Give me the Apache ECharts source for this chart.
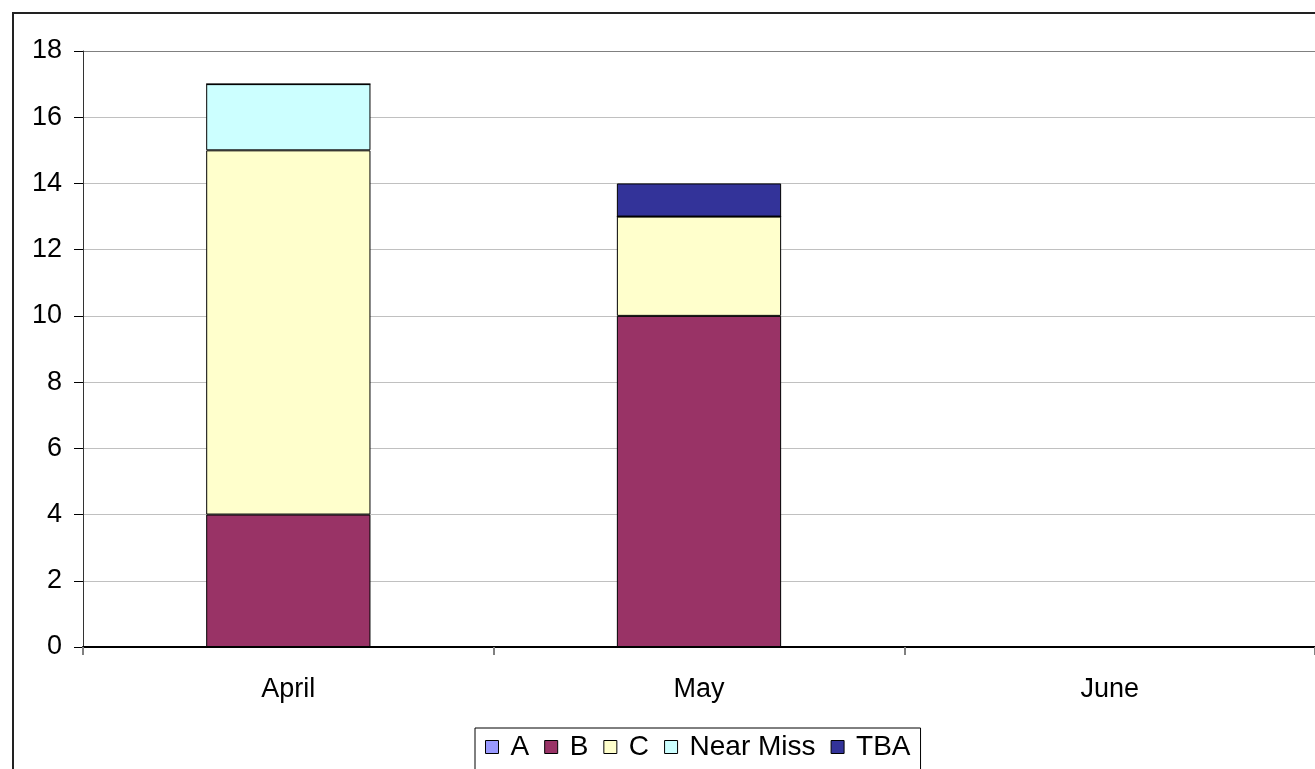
<!DOCTYPE html>
<html>
<head>
<meta charset="utf-8">
<script src="https://cdn.jsdelivr.net/npm/echarts@6/dist/echarts.min.js"></script>
<style>
html,body{margin:0;padding:0;background:#fff;}
#main{width:1315px;height:769px;}
</style>
</head>
<body>
<div id="main"></div>
<script>
const categories = ['April', 'May', 'June'];
const seriesA = [0, 0, 0];
const seriesB = [4, 10, 0];
const seriesC = [11, 3, 0];
const seriesNearMiss = [2, 0, 0];
const seriesTBA = [0, 1, 0];
const yTicks = [0, 2, 4, 6, 8, 10, 12, 14, 16, 18];

const FONT = "'Liberation Sans', Arial, sans-serif";
const chart = echarts.init(document.getElementById('main'), null, {renderer: 'canvas'});

function bar(name, data, color) {
  return {
    name: name,
    type: 'bar',
    stack: 'total',
    data: data,
    barWidth: '40%',
    itemStyle: {color: color, borderColor: '#000', borderWidth: 1},
    emphasis: {disabled: true}
  };
}

const gridColors = yTicks.map((v, i) => i === yTicks.length - 1 ? '#808080' : '#C0C0C0');

chart.setOption({
  animation: false,
  backgroundColor: '#fff',
  textStyle: {fontFamily: FONT},
  graphic: [{
    type: 'rect',
    shape: {x: 13, y: 13, width: 1400, height: 800},
    style: {fill: 'none', stroke: '#222', lineWidth: 2},
    silent: true
  }],
  grid: {left: 83, right: -1, top: 51, bottom: 122, containLabel: false},
  legend: {
    left: 475,
    top: 728,
    orient: 'horizontal',
    padding: [5, 10, 20, 10],
    borderColor: '#000',
    borderWidth: 1,
    itemGap: 15,
    itemWidth: 20,
    itemHeight: 13,
    icon: 'path://M0,0h13v13h-13z M20,13',
    itemStyle: {borderColor: '#000', borderWidth: 1},
    textStyle: {fontFamily: FONT, fontSize: 28, color: '#000'},
    data: ['A', 'B', 'C', 'Near Miss', 'TBA']
  },
  xAxis: {
    type: 'category',
    data: categories,
    boundaryGap: true,
    axisLine: {show: true, lineStyle: {color: '#000', width: 2}},
    axisTick: {show: true, length: 8, lineStyle: {color: '#808080', width: 2}},
    axisLabel: {fontFamily: FONT, fontSize: 27, color: '#000', margin: 29},
    splitLine: {show: false}
  },
  yAxis: {
    type: 'value',
    min: 0,
    max: 18,
    interval: 2,
    axisLine: {show: true, lineStyle: {color: '#333', width: 1}},
    axisTick: {show: true, length: 9, lineStyle: {color: '#000'}},
    axisLabel: {fontFamily: FONT, fontSize: 27, color: '#000', margin: 21},
    splitLine: {show: true, lineStyle: {color: gridColors, width: 1}}
  },
  series: [
    bar('A', seriesA, '#9999FF'),
    bar('B', seriesB, '#993366'),
    bar('C', seriesC, '#FFFFCC'),
    bar('Near Miss', seriesNearMiss, '#CCFFFF'),
    bar('TBA', seriesTBA, '#333399')
  ]
});
</script>
</body>
</html>
